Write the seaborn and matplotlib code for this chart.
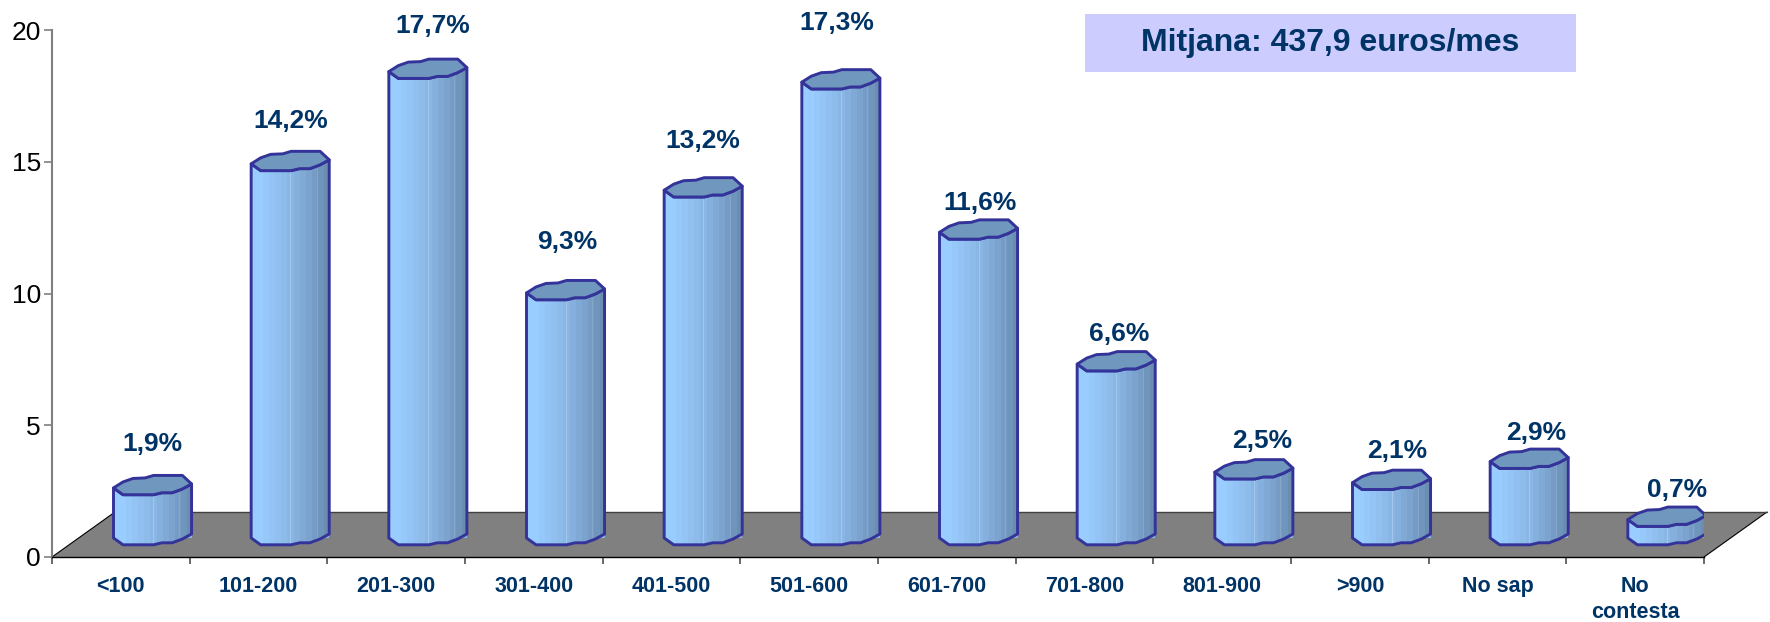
import numpy as np
import matplotlib
matplotlib.use("Agg")
import matplotlib.pyplot as plt
from matplotlib.colors import ListedColormap
from matplotlib.patches import Polygon, Rectangle
import seaborn as sns

categories = ["<100", "101-200", "201-300", "301-400", "401-500", "501-600",
              "601-700", "701-800", "801-900", ">900", "No sap", "No\ncontesta"]
values = [1.9, 14.2, 17.7, 9.3, 13.2, 17.3, 11.6, 6.6, 2.5, 2.1, 2.9, 0.7]
labels = ["1,9%", "14,2%", "17,7%", "9,3%", "13,2%", "17,3%",
          "11,6%", "6,6%", "2,5%", "2,1%", "2,9%", "0,7%"]
y_ticks = [0, 5, 10, 15, 20]
note = "Mitjana: 437,9 euros/mes"

# label placement relative to each bar, in pixels
label_gap_px = [33, 32, 35, 40, 38, 48, 18, 19, 20, 21, 18, 19]
label_dx_px = [0, 1, 5, 2, 0, -4, 2, 3, 8, 6, 7, 10]

W, H = 1770, 622
NAVY = "#003366"
EDGE = "#333399"
TOPC = "#7098BE"
FACETS = ["#99CCFF", "#99CCFF", "#96C8FA", "#93C4F5", "#90BFF0", "#8DBBEA",
          "#89B6E4", "#85B0DD", "#80A9D5", "#7BA3CD", "#769CC5", "#7095BC", "#6A8DB0"]

sns.set_style("white")
plt.rcParams["font.family"] = ["Liberation Sans", "DejaVu Sans"]

fig = plt.figure(figsize=(W / 100, H / 100), dpi=100, facecolor="white")
L, R, T, B = 52, 1704, 30, 557
ax = fig.add_axes([L / W, 1 - B / H, (R - L) / W, (B - T) / H])

sns.barplot(x=categories, y=values, ax=ax, color=FACETS[6], width=0.567,
            saturation=1, zorder=3)
ax.set_xlim(-0.5, 11.5)
ax.set_ylim(0, 20)
px_x = (R - L) / 12
px_y = (B - T) / 20

# floor of the 3D box
floor_dx, floor_dy = 63 / px_x, 45 / px_y
ax.add_patch(Polygon([(-0.5, 0), (11.5, 0), (11.5 + floor_dx, floor_dy), (-0.5 + floor_dx, floor_dy)],
                     closed=True, facecolor="#808080", edgecolor="none", zorder=1, clip_on=False))
ax.plot([-0.5, -0.5 + floor_dx], [0, floor_dy], color="black", lw=0.8, zorder=1.5, clip_on=False)
ax.plot([11.5, 11.5 + floor_dx], [0, floor_dy], color="black", lw=0.8, zorder=1.5, clip_on=False)
ax.plot([-0.5 + floor_dx, 11.5 + floor_dx], [floor_dy, floor_dy], color="#404040", lw=1.0, zorder=1.5, clip_on=False)

# cylinder cross-section, in fractions of width and pixels
u_front = np.array([0, .122, .513, .622, .752, .883, 1])
d_front = np.array([0, -6.8, -6.8, -4.8, -4.8, -1, 4])
u_back = np.array([1, .883, .513, .405, .25, .122, 0])
d_back = np.array([4, 12.5, 12.5, 10, 9.5, 6, 0])
base = 19 / px_y
left_inset = 61.5 / px_x

for i, (patch, v) in enumerate(zip(ax.patches[:len(values)], values)):
    w = patch.get_width()
    x0 = i - 0.5 + left_inset
    y0 = base
    y1 = base + v
    patch.set_x(x0)
    patch.set_y(y0)
    patch.set_height(v)
    patch.set_linewidth(0)
    xf = x0 + u_front * w
    xb = x0 + u_back * w
    bottom = np.column_stack([xf, y0 + d_front / px_y])
    top_front = np.column_stack([xf, y1 + d_front / px_y])
    top_back = np.column_stack([xb, y1 + d_back / px_y])
    body = np.vstack([bottom, top_front[::-1]])
    clip_p = Polygon(body, closed=True, transform=ax.transData)
    im = ax.imshow(np.arange(len(FACETS))[None, :], extent=[x0, x0 + w, y0 - 0.5, y1 + 0.5],
                   cmap=ListedColormap(FACETS), aspect="auto", interpolation="nearest", zorder=4)
    im.set_clip_path(clip_p)
    for u, c in [(0.5, "#A9CBEC"), (0.84, "#88A9CA")]:
        line, = ax.plot([x0 + u * w] * 2, [y0 - 0.2, y1 - 0.2], color=c, lw=0.6, zorder=4.5)
        line.set_clip_path(clip_p)
    ax.add_patch(Polygon(body, closed=True, facecolor="none", edgecolor=EDGE, lw=2.1,
                         zorder=5, joinstyle="round"))
    ax.add_patch(Polygon(np.vstack([top_front, top_back]), closed=True, facecolor=TOPC,
                         edgecolor=EDGE, lw=2.1, zorder=6, joinstyle="round"))
    ax.text(x0 + w / 2 + label_dx_px[i] / px_x, y1 + (11 + label_gap_px[i]) / px_y, labels[i],
            ha="center", va="center", color=NAVY, fontsize=19, fontweight="bold", zorder=7, clip_on=False)

ax.set_xlim(-0.5, 11.5)
ax.set_ylim(0, 20)

# axes
for s in ("top", "right"):
    ax.spines[s].set_visible(False)
ax.spines["left"].set_color("#808080")
ax.spines["left"].set_linewidth(1.5)
ax.spines["bottom"].set_color("black")
ax.spines["bottom"].set_linewidth(1.0)
ax.set_yticks(y_ticks)
ax.tick_params(axis="y", left=True, length=6, width=1.2, color="#808080", labelsize=19, pad=2, labelcolor="black")
ax.set_xticks(np.arange(-0.5, 12, 1), minor=True)
ax.tick_params(axis="x", which="minor", bottom=True, length=5, width=1.1, color="#404040")
ax.tick_params(axis="x", which="major", bottom=False, length=5, pad=9, labelsize=15.5, labelcolor=NAVY)
for t in ax.get_xticklabels():
    t.set_fontweight("bold")
    t.set_linespacing(1.3)
    t.set_verticalalignment("top")

# note box
fig.add_artist(Rectangle((1085 / W, 1 - 72 / H), (1576 - 1085) / W, (72 - 13.5) / H,
                         transform=fig.transFigure, facecolor="#CCCCFF", edgecolor="none"))
fig.text(1330 / W, 1 - 43 / H, note, ha="center", va="center", color=NAVY,
         fontsize=23, fontweight="bold")

fig.savefig("out.png", dpi=100, facecolor="white")
